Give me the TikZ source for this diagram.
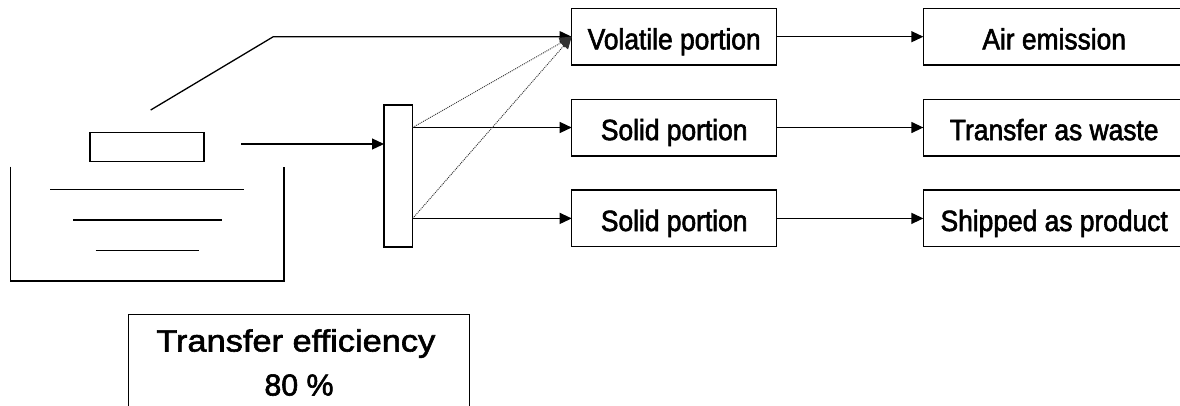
\documentclass[tikz,border=0pt]{standalone}
\usepackage{fontspec}
\newfontfamily\lblfont[FakeStretch=0.9,FakeBold=2]{Liberation Sans}
\newfontfamily\effont[FakeStretch=1.12,FakeBold=2]{Liberation Sans}
\newfontfamily\plainfont[FakeBold=2]{Liberation Sans}
\usetikzlibrary{arrows.meta}
\begin{document}
\begin{tikzpicture}[x=1pt,y=-1pt,line width=1.3pt,
  flowbox/.style={draw, rectangle, inner sep=0pt, outer sep=0pt,
    minimum height=56.7pt,
    font=\lblfont\fontsize{29.3pt}{34pt}\selectfont,
    text height=25.2pt, text depth=0pt},
  midbox/.style={flowbox, minimum width=205pt},
  endbox/.style={flowbox, minimum width=261.7pt},
  plainbox/.style={draw, rectangle, inner sep=0pt, outer sep=0pt},
  flowarrow/.style={-{Triangle[length=12pt,width=11pt]}},
  leak/.style={flowarrow, line width=0.9pt, black!80, dash pattern=on 1pt off 1pt}
]
% page and clipping frame
\fill[white] (0,0) rectangle (1180,405);
\useasboundingbox (0,0) rectangle (1180,405);
\clip (0,0) rectangle (1180,405);

% coating tank with the workpiece above it
\draw (10.7,166.7) -- (10.7,281) -- (284,281) -- (284,166.7);
\draw (50,189.7) -- (244.3,189.7);
\draw (73.3,220) -- (221.7,220);
\draw (95.7,250.7) -- (199,250.7);
\node[plainbox, minimum width=114pt, minimum height=29pt] (part) at (147,147.2) {};

% separator
\node[plainbox, minimum width=28.7pt, minimum height=142pt] (sep) at (398.35,176) {};

% portion boxes
\node[midbox] (vol) at (674.2,36.7) {Volatile portion};
\node[midbox] (sol1) at (674.2,127.5) {Solid portion};
\node[midbox] (sol2) at (674.2,218.4) {Solid portion};

% destination boxes
\node[endbox] (air) at (1054.2,36.7) {Air emission};
\node[endbox] (waste) at (1054.2,127.5) {Transfer as waste};
\node[endbox] (prod) at (1054.2,218.4) {Shipped as product};

% vapour path from the tank
\coordinate (vapor) at (150.7,110);
\coordinate (bend) at (273.3,36.7);
\draw[flowarrow] (vapor) -- (bend) -- (vol.west);

% feed into the separator
\coordinate (feed) at (241.3,144);
\draw[flowarrow] (feed) -- (feed -| sep.west);

% separator outlets
\coordinate (out1) at (sep.east |- sol1.west);
\coordinate (out2) at (sep.east |- sol2.west);
\draw[flowarrow] (out1) -- (sol1.west);
\draw[flowarrow] (out2) -- (sol2.west);
\draw[leak] (out1) -- (vol.west);
\draw[leak] (out2) -- (vol.west);

% portions to destinations
\draw[flowarrow] (vol.east) -- (air.west);
\draw[flowarrow] (sol1.east) -- (waste.west);
\draw[flowarrow] (sol2.east) -- (prod.west);

% efficiency box
\node[plainbox, anchor=north west, minimum width=341pt, minimum height=120pt] (eff) at (128.3,314.3) {};
\node[anchor=base, inner sep=0pt, font=\effont\fontsize{30.7pt}{36pt}\selectfont] (efftitle) at (295.8,351.5) {Transfer efficiency};
\node[anchor=base, inner sep=0pt, font=\plainfont\fontsize{30.3pt}{34pt}\selectfont] (effval) at (299,395.5) {80 \%};
\end{tikzpicture}
\end{document}
